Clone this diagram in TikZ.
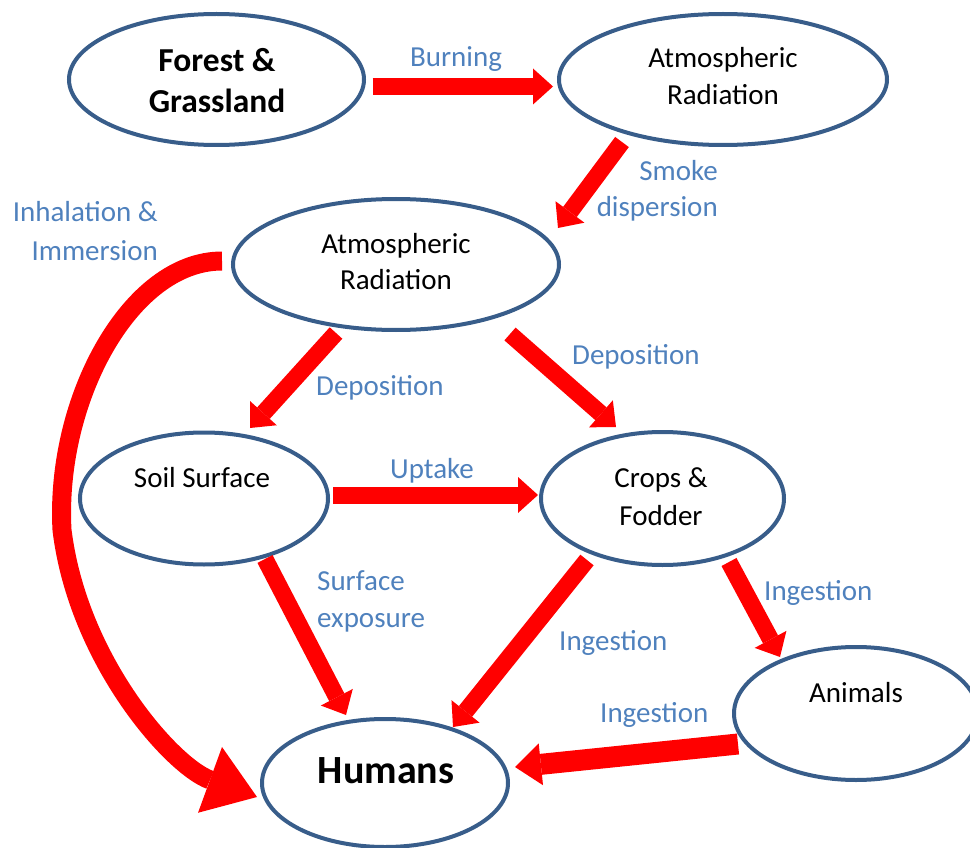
\documentclass[tikz,border=0pt]{standalone}
\usepackage{fontspec}
\setmainfont{Carlito}
\usetikzlibrary{arrows.meta,shapes.geometric,calc}
\definecolor{ellblue}{RGB}{56,93,138}
\definecolor{lblblue}{RGB}{79,129,189}
\definecolor{arrred}{RGB}{255,0,0}
\begin{document}
\begin{tikzpicture}[x=1pt,y=-1pt,
  ell/.style={draw=ellblue, line width=4pt, ellipse, inner sep=0pt, outer sep=0pt},
  txt/.style={anchor=base, inner sep=0pt, font=\fontsize{29}{35}\selectfont},
  btxt/.style={anchor=base, inner sep=0pt, font=\fontsize{33.5}{40}\selectfont\bfseries},
  htxt/.style={anchor=base, inner sep=0pt, font=\fontsize{40}{48}\selectfont\bfseries},
  lbl/.style={inner sep=0pt, text=lblblue, font=\fontsize{29}{35}\selectfont},
  blk/.style={draw=arrred, line width=17pt, -{Triangle[width=36pt,length=20pt,line width=0pt]}},
  wblk/.style={draw=arrred, line width=21pt, -{Triangle[width=42pt,length=26pt,line width=0pt]}},
  curv/.style={draw=arrred, line width=19pt, -{Triangle[width=70pt,length=50pt,line width=0pt]}},
]
\useasboundingbox (0,0) rectangle (970,848);
\clip (0,0) rectangle (970,848);

% ellipses
\node[ell, minimum width=295pt, minimum height=131pt] (forest) at (216.5,79.5) {};
\node[ell, minimum width=328pt, minimum height=131pt] (atm1) at (723,79.5) {};
\node[ell, minimum width=326pt, minimum height=131pt] (atm2) at (396,264.5) {};
\node[ell, minimum width=248pt, minimum height=132pt] (soil) at (204,498.5) {};
\node[ell, minimum width=243pt, minimum height=133pt] (crops) at (662.5,498.5) {};
\node[ell, minimum width=244pt, minimum height=133pt] (animals) at (856,713.5) {};
\node[ell, minimum width=246pt, minimum height=128pt] (humans) at (385,783) {};

% arrows
\draw[blk] ($(forest.east)+(8.5,7)$) -- ($(atm1.west)+(-6,7)$);
\draw[blk] ($(atm1.center)+(-101,62.5)$) -- ($(atm2.center)+(162,-36.5)$);
\draw[blk] ($(atm2.center)+(-60,68.5)$) -- ($(soil.center)+(46,-70.5)$);
\draw[blk] ($(atm2.center)+(114,69.5)$) -- ($(crops.center)+(-46.5,-71.5)$);
\draw[blk] ($(soil.center)+(129,-3.5)$) -- ($(crops.center)+(-124.5,-3.5)$);
\draw[blk] ($(soil.center)+(61,60.5)$) -- ($(humans.center)+(-39,-68)$);
\draw[blk] ($(crops.center)+(-75.5,61.5)$) -- ($(humans.center)+(68,-56)$);
\draw[blk] ($(crops.center)+(66.5,63.5)$) -- ($(animals.center)+(-76,-56.5)$);
\draw[wblk] ($(animals.center)+(-118,30.5)$) -- ($(humans.center)+(130,-16)$);
\draw[curv] ($(atm2.west)+(-11,-3.5)$) .. controls (130,261) and (55,400) .. (62,530)
  .. controls (78,660) and (172,766) .. ($(humans.west)+(-5,14)$);

% node texts
\node[btxt] (t-forest1) at (217,72) {Forest \&};
\node[btxt] (t-forest2) at (217,113) {Grassland};
\node[txt] (t-atm1a) at (723,68) {Atmospheric};
\node[txt] (t-atm1b) at (723,105) {Radiation};
\node[txt] (t-atm2a) at (396,253) {Atmospheric};
\node[txt] (t-atm2b) at (396,289) {Radiation};
\node[txt] (t-soil) at (202,487) {Soil Surface};
\node[txt] (t-crops1) at (661,487) {Crops \&};
\node[txt] (t-crops2) at (661,525) {Fodder};
\node[txt] (t-animals) at (856,702) {Animals};
\node[htxt] (t-humans) at (386,783) {Humans};

% connector labels
\node[lbl, anchor=base] (l-burn) at (456,67) {Burning};
\node[lbl, anchor=base east] (l-smoke1) at (718,181) {Smoke};
\node[lbl, anchor=base east] (l-smoke2) at (718,216) {dispersion};
\node[lbl, anchor=base east] (l-inh1) at (158,222) {Inhalation \&};
\node[lbl, anchor=base east] (l-inh2) at (158,260) {Immersion};
\node[lbl, anchor=base west] (l-dep1) at (316,395) {Deposition};
\node[lbl, anchor=base west] (l-dep2) at (572,364) {Deposition};
\node[lbl, anchor=base] (l-up) at (432,478) {Uptake};
\node[lbl, anchor=base west] (l-surf1) at (317,590) {Surface};
\node[lbl, anchor=base west] (l-surf2) at (317,627) {exposure};
\node[lbl, anchor=base west] (l-ing1) at (764,600) {Ingestion};
\node[lbl, anchor=base west] (l-ing2) at (559,650) {Ingestion};
\node[lbl, anchor=base west] (l-ing3) at (600,722) {Ingestion};
\end{tikzpicture}
\end{document}
